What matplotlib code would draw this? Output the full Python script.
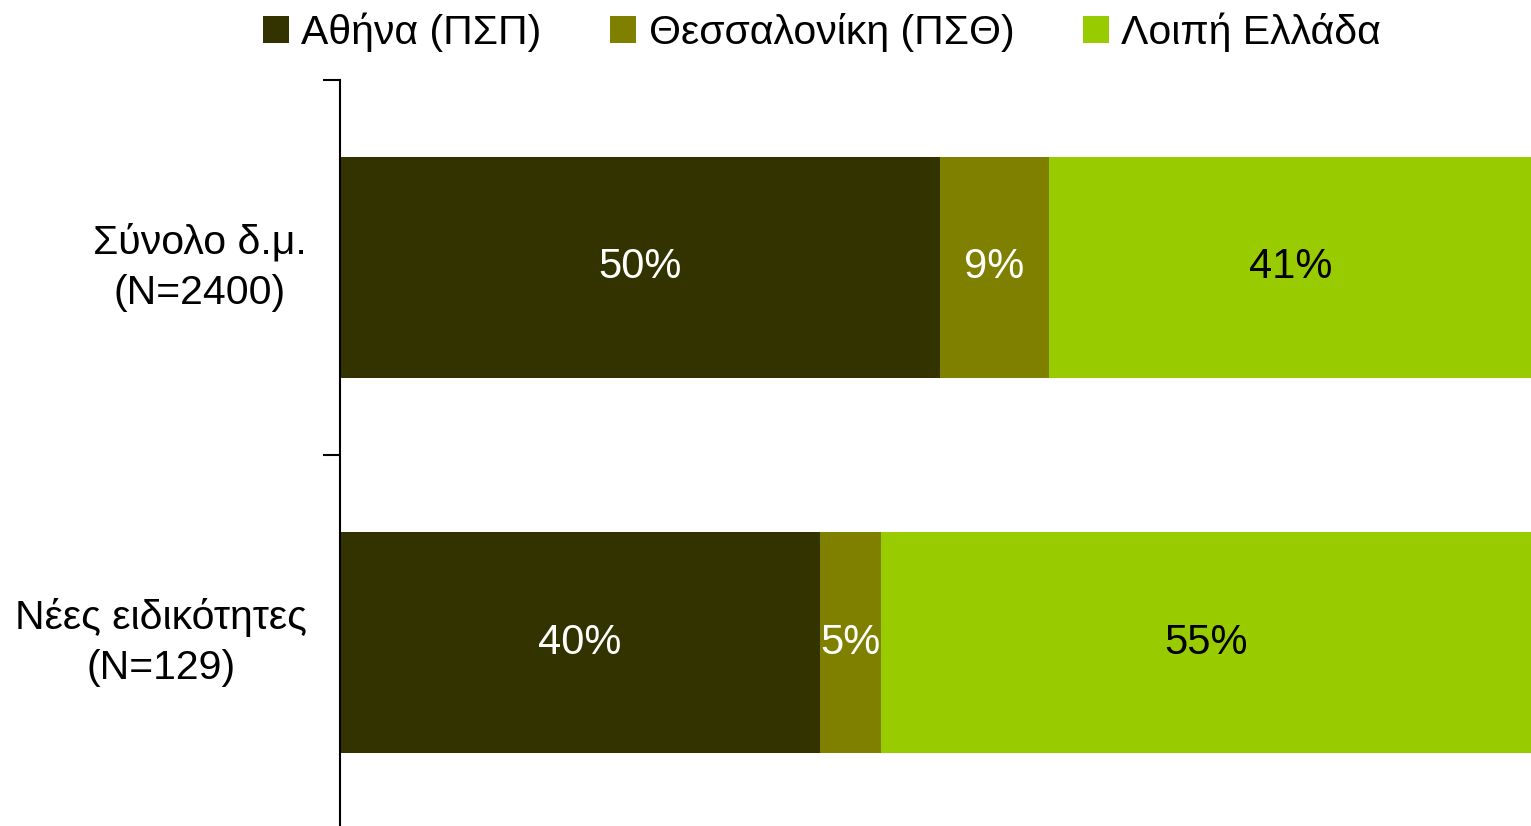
import matplotlib.pyplot as plt
import numpy as np

plt.rcParams['font.family'] = ['Liberation Sans', 'DejaVu Sans']

categories = ['Σύνολο δ.μ.\n(N=2400)', 'Νέες ειδικότητες\n(N=129)']
series_names = ['Αθήνα (ΠΣΠ)', 'Θεσσαλονίκη (ΠΣΘ)', 'Λοιπή Ελλάδα']
athens = [50.4, 40.3]
thessaloniki = [9.1, 5.1]
rest = [40.6, 54.6]
colors = ['#333300', '#808000', '#99CC00']
text_colors = ['white', 'white', 'black']

fig = plt.figure(figsize=(15.31, 8.26), dpi=100)
ax = fig.add_axes([340 / 1531, -4 / 826, 1 - 340 / 1531, (826 - 80 + 4) / 826])

y = np.arange(len(categories))
left = np.zeros(len(categories))
for vals, name, c, tc in zip([athens, thessaloniki, rest], series_names, colors, text_colors):
    vals = np.array(vals)
    ax.barh(y, vals, left=left, height=0.59, color=c, label=name)
    for yi, l, v in zip(y, left, vals):
        ax.text(l + v / 2, yi, f"{v:.0f}%", ha='center', va='center',
                color=tc, fontsize=30)
    left += vals

ax.set_xlim(0, 100)
ax.set_ylim(1.5, -0.5)
ax.set_yticks(y)
ax.set_yticklabels(categories, fontsize=29.5, linespacing=1.42)
for t in ax.get_yticklabels():
    t.set_multialignment('center')
    t.set_verticalalignment('center')
ax.set_yticks([-0.5, 0.5, 1.5], minor=True)
ax.tick_params(axis='y', which='major', length=0, pad=24)
ax.tick_params(axis='y', which='minor', length=12, width=1.5, direction='out')
ax.set_xticks([])
for s in ['top', 'right', 'bottom']:
    ax.spines[s].set_visible(False)
ax.spines['left'].set_linewidth(1.5)

fig.legend(loc='center', bbox_to_anchor=(0.537, 0.9615), ncol=3, frameon=False,
           fontsize=29.5, handlelength=0.63, handleheight=0.63, handletextpad=0.3,
           columnspacing=1.68)

fig.savefig('out.png', dpi=100)
